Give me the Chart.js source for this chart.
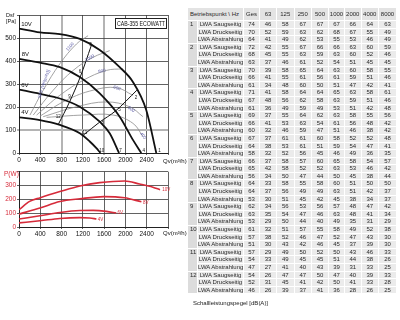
<!DOCTYPE html>
<html>
<head>
<meta charset="utf-8">
<script src="https://cdn.jsdelivr.net/npm/chart.js@4.4.1/dist/chart.umd.min.js"></script>
<style>
  html, body { margin: 0; padding: 0; background: #fff; width: 400px; height: 320px; overflow: hidden; }
  body { font-family: "Liberation Sans", Arial, sans-serif; }
  #cPress { position: absolute; left: 0; top: 0; }
  #cPower { position: absolute; left: 0; top: 160px; }
  #tbl {
    position: absolute; left: 188px; top: 8px;
    display: grid;
    grid-template-columns: 9px 45px 15px 16px 16.5px 16.5px 16px 15px 15.5px 16.5px 17px;
    grid-template-rows: 12px repeat(36, 6.6px);
    gap: 1px;
    font-family: "Liberation Sans Narrow", "Arial Narrow", "Liberation Sans", sans-serif;
    font-size: 6px; color: #2a2a2a;
  }
  #tbl div { background: #ebebeb; text-align: center; line-height: 6.6px; white-space: nowrap; overflow: hidden; }
  #tbl div.hd { line-height: 12px; background: #e3e3e3; }
  #tbl div.hd.first { text-align: left; padding-left: 2px; }
  #tbl div.num { background: #dcdcdc; text-align: left; padding-left: 2px; }
  #foot { position: absolute; left: 193px; top: 300px; font-family: "Liberation Sans Narrow", "Liberation Sans", sans-serif; font-size: 6px; color: #222; }
</style>
</head>
<body>
<canvas id="cPress" width="190" height="170"></canvas>
<canvas id="cPower" width="190" height="82"></canvas>
<div id="tbl"></div>
<div id="foot">Schallleistungspegel [dB(A)]</div>
<script>
// --- Kennlinien Druck (q in m³/h, p in Pa) ---
const flow10V = [0, 393, 768, 1143, 1517, 1892, 2141, 2391, 2580];
const press10V = [541, 524, 517, 496, 448, 373, 309, 187, 0];
const flow8V = [0, 393, 768, 1143, 1517, 1892, 2141, 2298];
const press8V = [409, 393, 373, 330, 259, 158, 57, 0];
const flow6V = [0, 393, 768, 1143, 1517, 1704, 1880];
const press6V = [276, 257, 237, 201, 136, 86, 0];
const flow4V = [0, 393, 768, 1143, 1330, 1450, 1530];
const press4V = [155, 143, 122, 86, 50, 22, 0];

// Betriebspunkte-Linien
const flowLineA = [740, 950, 1150, 1360];
const pressLineA = [125, 222, 330, 468];
const flowLineB = [1200, 1520, 1810, 2215];
const pressLineB = [76, 135, 182, 273];

// SFP-Linien (grau)
const sfpFlow = [
  [206, 455, 768, 1080, 1298],
  [268, 643, 1017, 1392, 1704],
  [331, 768, 1205, 1642, 1954],
  [393, 893, 1392, 1829, 2141],
  [455, 1080, 1642, 2079, 2329],
  [518, 1205, 1767, 2141, 2329],
];
const sfpPress = [
  [165, 273, 388, 474, 510],
  [165, 273, 359, 416, 445],
  [165, 251, 316, 359, 366],
  [160, 230, 273, 284, 251],
  [158, 201, 222, 201, 158],
  [155, 165, 165, 129, 72],
];
const sfpLabels = ['1100', '1000', '800', '600', '500', '400'];

// --- Leistung (W) ---
const powFlow10V = [0, 200, 400, 768, 1143, 1517, 1985, 2266, 2516, 2650];
const power10V = [125, 185, 212, 256, 297, 321, 333, 311, 288, 270];
const powFlow8V = [0, 393, 768, 1143, 1598, 1985, 2300];
const power8V = [93, 137, 184, 204, 220, 211, 182];
const powFlow6V = [0, 393, 768, 1143, 1393, 1642, 1829];
const power6V = [58, 81, 105, 119, 120, 113, 101];
const powFlow4V = [0, 393, 768, 1143, 1330, 1455];
const power4V = [30, 45, 62, 68, 65, 58];

// --- Tabelle ---
const bands = ['Ges', '63', '125', '250', '500', '1000', '2000', '4000', '8000'];
const rowNames = ['LWA Saugseitig', 'LWA Druckseitig', 'LWA Abstrahlung'];
const lwaSaug = [
  [74, 46, 58, 67, 67, 67, 66, 64, 63], [72, 42, 55, 67, 66, 66, 63, 60, 59],
  [70, 39, 58, 65, 64, 63, 60, 58, 55], [71, 41, 58, 64, 64, 65, 63, 58, 61],
  [69, 37, 55, 64, 62, 63, 58, 55, 56], [67, 37, 61, 61, 60, 58, 52, 52, 48],
  [66, 37, 58, 57, 60, 65, 58, 54, 57], [64, 33, 58, 55, 58, 60, 51, 50, 50],
  [62, 34, 56, 53, 56, 57, 48, 47, 42], [61, 32, 51, 57, 55, 58, 49, 52, 38],
  [57, 29, 49, 50, 52, 50, 43, 46, 33], [54, 26, 47, 47, 50, 47, 40, 39, 33],
];
const lwaDruck = [
  [70, 52, 59, 63, 62, 68, 67, 55, 49], [68, 45, 55, 63, 59, 63, 60, 52, 46],
  [66, 41, 55, 61, 56, 61, 59, 51, 46], [67, 48, 56, 62, 58, 63, 59, 51, 46],
  [66, 41, 53, 63, 54, 61, 56, 48, 42], [64, 38, 53, 61, 51, 59, 54, 47, 41],
  [65, 42, 58, 52, 52, 63, 53, 46, 42], [64, 37, 56, 49, 49, 63, 51, 42, 37],
  [63, 35, 54, 47, 46, 63, 48, 41, 34], [57, 38, 52, 46, 47, 52, 47, 43, 30],
  [54, 33, 49, 45, 45, 51, 44, 38, 26], [52, 31, 45, 41, 42, 50, 41, 33, 28],
];
const lwaAbst = [
  [64, 41, 49, 62, 53, 55, 53, 46, 49], [63, 37, 46, 61, 52, 54, 51, 45, 45],
  [61, 34, 48, 60, 50, 51, 47, 42, 41], [61, 36, 49, 59, 49, 53, 51, 42, 48],
  [60, 32, 46, 59, 47, 51, 46, 38, 42], [58, 32, 52, 56, 45, 46, 49, 36, 35],
  [56, 34, 50, 47, 44, 50, 45, 38, 44], [53, 30, 51, 45, 42, 45, 38, 34, 37],
  [53, 29, 50, 44, 40, 49, 35, 31, 29], [51, 30, 43, 42, 46, 45, 37, 39, 30],
  [47, 27, 41, 40, 43, 39, 31, 33, 25], [46, 26, 39, 37, 41, 36, 28, 26, 25],
];

const pts = (xs, ys) => xs.map((x, i) => ({ x, y: ys[i] }));
const FONT = '"Liberation Sans", Arial, sans-serif';
const RED = '#d62b3a';

// Texte im Diagramm (Datenkoordinaten bzw. Pixel)
const textPlugin = {
  id: 'texts',
  afterDraw(chart, args, opts) {
    const { ctx, scales: { x, y } } = chart;
    ctx.save();
    (opts.box || []).forEach((b) => {
      ctx.fillStyle = '#fff';
      ctx.fillRect(b.l, b.t, b.w, b.h);
      ctx.strokeStyle = '#222';
      ctx.lineWidth = 1;
      ctx.strokeRect(b.l + 0.5, b.t + 0.5, b.w - 1, b.h - 1);
      ctx.fillStyle = '#111';
      ctx.font = b.size + 'px ' + FONT;
      ctx.textAlign = 'center';
      ctx.textBaseline = 'middle';
      ctx.fillText(b.text, b.l + b.w / 2, b.t + b.h / 2 + 0.5, b.w - 4);
    });
    (opts.items || []).forEach((it) => {
      const px = it.px !== undefined ? it.px : x.getPixelForValue(it.x);
      const py = it.py !== undefined ? it.py : y.getPixelForValue(it.y);
      ctx.save();
      ctx.translate(px, py);
      if (it.rot) ctx.rotate(it.rot * Math.PI / 180);
      ctx.fillStyle = it.c || '#111';
      ctx.font = (it.b ? 'bold ' : '') + (it.s || 6) + 'px ' + FONT;
      ctx.textAlign = it.a || 'left';
      ctx.textBaseline = 'middle';
      ctx.fillText(it.t, 0, 0);
      ctx.restore();
    });
    ctx.restore();
  },
};

function axes(xMax, yMax, yStep, yColor, gridFn, yWidth, xHeight) {
  return {
    x: {
      type: 'linear', min: 0, max: xMax,
      afterFit: (s) => { s.height = xHeight; },
      ticks: {
        stepSize: 400, autoSkip: false, maxRotation: 0, padding: 1,
        color: '#111', font: { family: FONT, size: 6.5 },
        callback: (v) => (v === xMax ? '' : v),
      },
      grid: {
        color: (c) => gridFn('x', c.tick && c.tick.value).color,
        lineWidth: (c) => gridFn('x', c.tick && c.tick.value).w,
        tickLength: 2,
      },
      border: { color: '#222', width: 1 },
    },
    y: {
      min: 0, max: yMax,
      afterFit: (s) => { s.width = yWidth; },
      ticks: {
        stepSize: yStep, padding: 1,
        color: yColor, font: { family: FONT, size: 6.5 },
        callback: (v) => (v === yMax ? '' : v),
      },
      grid: {
        color: (c) => gridFn('y', c.tick && c.tick.value).color,
        lineWidth: (c) => gridFn('y', c.tick && c.tick.value).w,
        tickLength: 2,
      },
      border: { color: '#222', width: 1 },
    },
  };
}

const black = (data, w) => ({
  data, borderColor: '#111', borderWidth: w, pointRadius: 0,
  tension: 0.35, cubicInterpolationMode: 'monotone', fill: false,
});

// ---------- Druckdiagramm ----------
const pressSets = [
  black(pts(flow10V, press10V), 1.8),
  black(pts(flow8V, press8V), 1.8),
  black(pts(flow6V, press6V), 1.8),
  black(pts(flow4V, press4V), 1.8),
  { ...black(pts(flowLineA, pressLineA), 1), tension: 0.2 },
  { ...black(pts(flowLineB, pressLineB), 1), tension: 0.2 },
];
sfpFlow.forEach((xs, i) => {
  pressSets.push({
    data: pts(xs, sfpPress[i]), borderColor: '#8c8c8c', borderWidth: 0.8,
    pointRadius: 0, tension: 0.4, fill: false,
  });
});

const sfpNotes = [
  { x: 960, y: 462, rot: -48 }, { x: 1330, y: 412, rot: -30 }, { x: 1560, y: 356, rot: -12 },
  { x: 1840, y: 282, rot: 15 }, { x: 2110, y: 190, rot: 35 }, { x: 2330, y: 75, rot: 55 },
].map((p, i) => ({ ...p, t: sfpLabels[i], c: '#5a5aa6', s: 4.5, a: 'center' }));

const pointNotes = [
  ['1', 2615, 10], ['4', 2320, 10], ['7', 1885, 10], ['10', 1510, 10],
  ['2', 2175, 240], ['5', 1865, 188], ['8', 1550, 130], ['11', 1195, 86],
  ['3', 1320, 470], ['6', 1124, 355], ['9', 924, 244], ['12', 690, 156],
].map(([t, x, y]) => ({ t, x, y, s: 4.5, c: '#111' }));

new Chart(document.getElementById('cPress'), {
  type: 'line',
  data: { datasets: pressSets },
  options: {
    responsive: false, animation: false, events: [],
    layout: { padding: { left: 0, right: 22, top: 15, bottom: 0 } },
    plugins: {
      legend: { display: false }, tooltip: { enabled: false },
      texts: {
        box: [{ l: 115, t: 18, w: 52, h: 11, text: 'CAB-355 ECOWATT', size: 8 }],
        items: [
          { t: 'Dsf', px: 6, py: 15, s: 5.5 },
          { t: '[Pa]', px: 6, py: 21, s: 5.5 },
          { t: '10V', x: 40, y: 560, s: 6 },
          { t: '8V', x: 50, y: 430, s: 6 },
          { t: '6V', x: 40, y: 292, s: 6 },
          { t: '4V', x: 40, y: 177, s: 6 },
          { t: 'SFP [W/(m³/s)]', x: 470, y: 300, rot: -72, s: 4.5, c: '#5a5aa6', a: 'center' },
          { t: 'Qv(m³/h)', px: 163, py: 161, s: 6 },
          ...sfpNotes, ...pointNotes,
        ],
      },
    },
    scales: axes(2800, 600, 100, '#111', (ax, v) => {
      if ((ax === 'x' && (v === 800 || v === 1600)) || (ax === 'y' && v === 100)) return { color: '#b4b4b4', w: 2 };
      return { color: '#3a3a3a', w: 0.8 };
    }, 19, 17),
  },
  plugins: [textPlugin],
});

// ---------- Leistungsdiagramm ----------
const red = (data) => ({
  data, borderColor: RED, borderWidth: 1.6, pointRadius: 0,
  tension: 0.35, cubicInterpolationMode: 'monotone', fill: false,
});

new Chart(document.getElementById('cPower'), {
  type: 'line',
  data: {
    datasets: [
      red(pts(powFlow10V, power10V)),
      red(pts(powFlow8V, power8V)),
      red(pts(powFlow6V, power6V)),
      red(pts(powFlow4V, power4V)),
    ],
  },
  options: {
    responsive: false, animation: false, events: [],
    layout: { padding: { left: 0, right: 22, top: 11.7, bottom: 0 } },
    plugins: {
      legend: { display: false }, tooltip: { enabled: false },
      texts: {
        items: [
          { t: 'P(W)', px: 4, py: 14, s: 6.5, c: RED },
          { t: '10V', x: 2690, y: 268, s: 4.5, c: RED },
          { t: '8V', x: 2330, y: 178, s: 4.5, c: RED },
          { t: '6V', x: 1850, y: 100, s: 4.5, c: RED },
          { t: '4V', x: 1480, y: 55, s: 4.5, c: RED },
          { t: 'Qv(m³/h)', px: 163, py: 73, s: 6 },
        ],
      },
    },
    scales: axes(2800, 400, 100, RED, () => ({ color: '#3a3a3a', w: 0.8 }), 19, 15),
  },
  plugins: [textPlugin],
});

// ---------- Tabelle ----------
const tbl = document.getElementById('tbl');
function cell(text, cls, style) {
  const d = document.createElement('div');
  d.textContent = text;
  if (cls) d.className = cls;
  if (style) d.style.cssText = style;
  tbl.appendChild(d);
}
cell('Betriebspunkt \\ Hz', 'hd first', 'grid-column: span 2');
bands.forEach((b) => cell(b, 'hd'));
lwaSaug.forEach((row, i) => {
  const groups = [row, lwaDruck[i], lwaAbst[i]];
  groups.forEach((vals, k) => {
    if (k === 0) cell(String(i + 1), 'num', 'grid-row: span 3');
    cell(rowNames[k]);
    vals.forEach((v) => cell(String(v)));
  });
});
</script>
</body>
</html>
